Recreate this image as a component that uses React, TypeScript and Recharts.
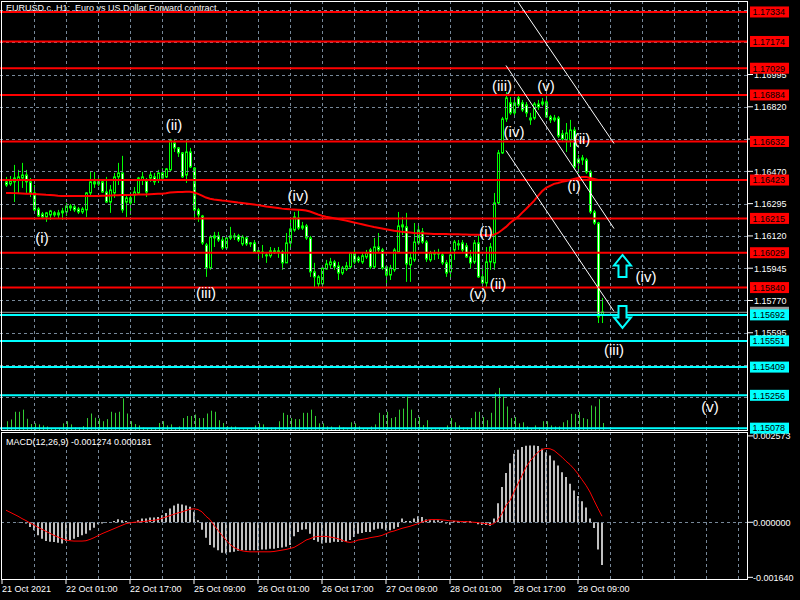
import React from 'react';
import { ComposedChart, Bar, Line, XAxis, YAxis, ReferenceLine, ReferenceDot } from 'recharts';

const FONT = '"Liberation Sans", Arial, sans-serif';
const LIME = '#00ff00';
const VOL_GREEN = '#32cd32';
const GRID = '#778899';

// ---------- data ----------
const timeLabels = ['21 Oct 2021', '22 Oct 01:00', '22 Oct 17:00', '25 Oct 09:00', '26 Oct 01:00', '26 Oct 17:00', '27 Oct 09:00', '28 Oct 01:00', '28 Oct 17:00', '29 Oct 09:00'];
const timeLabelSlots = [0, 16, 32, 48, 64, 80, 96, 112, 128, 144];
const gridSlots = [8, 16, 24, 32, 40, 48, 56, 64, 72, 80, 88, 96, 104, 112, 120, 128, 136, 144, 152, 160, 168, 176, 184];
const SLOT_COUNT = 187;
const FIRST_SLOT = 1;

const opens = [
  1.16413, 1.16402, 1.16413, 1.16423, 1.16434, 1.16450, 1.16413, 1.16353, 1.16266, 1.16239,
  1.16223, 1.16234, 1.16245, 1.16234, 1.16245, 1.16250, 1.16282, 1.16277, 1.16266, 1.16250,
  1.16261, 1.16353, 1.16413, 1.16402, 1.16413, 1.16358, 1.16304, 1.16353, 1.16440, 1.16461,
  1.16304, 1.16326, 1.16342, 1.16353, 1.16423, 1.16418, 1.16434, 1.16440, 1.16423, 1.16461,
  1.16440, 1.16478, 1.16624, 1.16597, 1.16570, 1.16450, 1.16575, 1.16488, 1.16261, 1.16228,
  1.16071, 1.15946, 1.16120, 1.16120, 1.16098, 1.16055, 1.16109, 1.16120, 1.16120, 1.16077,
  1.16109, 1.16082, 1.16082, 1.16039, 1.16033, 1.16017, 1.16012, 1.16039, 1.16033, 1.16033,
  1.15974, 1.16082, 1.16152, 1.16217, 1.16163, 1.16174, 1.16109, 1.15925, 1.15860, 1.15860,
  1.15941, 1.15963, 1.15979, 1.15957, 1.15919, 1.15941, 1.15952, 1.16028, 1.16001, 1.15979,
  1.16006, 1.16044, 1.15952, 1.16060, 1.16044, 1.15952, 1.15908, 1.15936, 1.16033, 1.16169,
  1.16169, 1.15963, 1.15990, 1.16082, 1.16142, 1.16087, 1.15990, 1.16028, 1.16022, 1.16017,
  1.15974, 1.15925, 1.16044, 1.16077, 1.16082, 1.16066, 1.16006, 1.15979, 1.16082, 1.15898,
  1.15865, 1.15979, 1.15974, 1.16299, 1.16570, 1.16754, 1.16841, 1.16787, 1.16868, 1.16841,
  1.16830, 1.16759, 1.16759, 1.16835, 1.16835, 1.16846, 1.16765, 1.16759, 1.16759, 1.16673,
  1.16640, 1.16640, 1.16694, 1.16537, 1.16532, 1.16532, 1.16467, 1.16250, 1.16190, 1.15692,
];
const highs = [
  1.16440, 1.16445, 1.16505, 1.16478, 1.16516, 1.16478, 1.16434, 1.16396, 1.16277, 1.16250,
  1.16250, 1.16261, 1.16255, 1.16261, 1.16272, 1.16299, 1.16293, 1.16288, 1.16277, 1.16277,
  1.16358, 1.16467, 1.16467, 1.16434, 1.16423, 1.16440, 1.16396, 1.16461, 1.16516, 1.16554,
  1.16342, 1.16358, 1.16385, 1.16440, 1.16467, 1.16434, 1.16467, 1.16461, 1.16478, 1.16488,
  1.16488, 1.16646, 1.16646, 1.16602, 1.16575, 1.16640, 1.16597, 1.16494, 1.16272, 1.16234,
  1.16082, 1.16125, 1.16142, 1.16142, 1.16114, 1.16114, 1.16169, 1.16136, 1.16131, 1.16125,
  1.16120, 1.16087, 1.16098, 1.16060, 1.16071, 1.16033, 1.16060, 1.16055, 1.16060, 1.16044,
  1.16136, 1.16207, 1.16250, 1.16261, 1.16196, 1.16185, 1.16120, 1.15974, 1.15908, 1.15952,
  1.15990, 1.16001, 1.15990, 1.15979, 1.15957, 1.15979, 1.16033, 1.16044, 1.16012, 1.16033,
  1.16044, 1.16055, 1.16109, 1.16136, 1.16055, 1.15963, 1.15963, 1.16055, 1.16250, 1.16223,
  1.16245, 1.16033, 1.16190, 1.16190, 1.16163, 1.16098, 1.16039, 1.16044, 1.16050, 1.16028,
  1.15990, 1.16044, 1.16098, 1.16098, 1.16098, 1.16082, 1.16044, 1.16098, 1.16125, 1.15952,
  1.16060, 1.16082, 1.16353, 1.16586, 1.16765, 1.16900, 1.16873, 1.16857, 1.16884, 1.16857,
  1.16846, 1.16787, 1.16846, 1.16857, 1.16868, 1.16879, 1.16776, 1.16776, 1.16770, 1.16694,
  1.16732, 1.16749, 1.16711, 1.16559, 1.16559, 1.16543, 1.16478, 1.16261, 1.16196, 1.15784,
];
const lows = [
  1.16385, 1.16391, 1.16304, 1.16353, 1.16380, 1.16353, 1.16331, 1.16250, 1.16223, 1.16212,
  1.16196, 1.16207, 1.16223, 1.16217, 1.16207, 1.16228, 1.16255, 1.16250, 1.16239, 1.16239,
  1.16223, 1.16342, 1.16380, 1.16391, 1.16353, 1.16299, 1.16245, 1.16326, 1.16396, 1.16245,
  1.16223, 1.16234, 1.16299, 1.16342, 1.16396, 1.16331, 1.16413, 1.16396, 1.16407, 1.16418,
  1.16434, 1.16467, 1.16575, 1.16548, 1.16434, 1.16407, 1.16488, 1.16223, 1.16196, 1.16071,
  1.15898, 1.15936, 1.16060, 1.16087, 1.16044, 1.16044, 1.16098, 1.16098, 1.16087, 1.16066,
  1.16066, 1.16060, 1.16028, 1.15990, 1.16001, 1.15974, 1.16001, 1.16022, 1.16001, 1.15936,
  1.15974, 1.16044, 1.16142, 1.16152, 1.16152, 1.16098, 1.15898, 1.15843, 1.15843, 1.15843,
  1.15936, 1.15946, 1.15936, 1.15881, 1.15908, 1.15930, 1.15946, 1.15968, 1.15974, 1.15968,
  1.15995, 1.15941, 1.15946, 1.16033, 1.15936, 1.15843, 1.15881, 1.15925, 1.16028, 1.16125,
  1.15871, 1.15871, 1.15979, 1.16071, 1.16077, 1.15979, 1.15979, 1.15990, 1.15995, 1.15963,
  1.15898, 1.15881, 1.15990, 1.16044, 1.16033, 1.16001, 1.15946, 1.15968, 1.15892, 1.15843,
  1.15843, 1.15936, 1.15936, 1.16288, 1.16564, 1.16738, 1.16776, 1.16759, 1.16819, 1.16792,
  1.16765, 1.16722, 1.16749, 1.16803, 1.16824, 1.16759, 1.16732, 1.16738, 1.16651, 1.16635,
  1.16575, 1.16602, 1.16478, 1.16461, 1.16505, 1.16456, 1.16239, 1.16180, 1.15648, 1.15648,
];
const closes = [
  1.16396, 1.16418, 1.16434, 1.16440, 1.16450, 1.16413, 1.16353, 1.16261, 1.16228, 1.16223,
  1.16245, 1.16255, 1.16234, 1.16245, 1.16255, 1.16282, 1.16272, 1.16261, 1.16250, 1.16266,
  1.16353, 1.16413, 1.16402, 1.16413, 1.16358, 1.16304, 1.16369, 1.16440, 1.16461, 1.16261,
  1.16326, 1.16299, 1.16358, 1.16434, 1.16440, 1.16358, 1.16450, 1.16413, 1.16461, 1.16434,
  1.16483, 1.16640, 1.16597, 1.16570, 1.16440, 1.16575, 1.16494, 1.16261, 1.16234, 1.16082,
  1.15946, 1.16114, 1.16109, 1.16098, 1.16055, 1.16109, 1.16120, 1.16114, 1.16098, 1.16114,
  1.16077, 1.16077, 1.16033, 1.16033, 1.16028, 1.16012, 1.16039, 1.16033, 1.16039, 1.15974,
  1.16082, 1.16158, 1.16223, 1.16163, 1.16174, 1.16109, 1.15925, 1.15898, 1.15898, 1.15946,
  1.15968, 1.15979, 1.15952, 1.15919, 1.15946, 1.15957, 1.16028, 1.15979, 1.15985, 1.16012,
  1.16028, 1.15952, 1.16060, 1.16044, 1.15946, 1.15908, 1.15946, 1.16044, 1.16174, 1.16180,
  1.15968, 1.16001, 1.16087, 1.16152, 1.16087, 1.15995, 1.16028, 1.16022, 1.16028, 1.15974,
  1.15919, 1.16017, 1.16087, 1.16071, 1.16044, 1.16006, 1.15974, 1.16082, 1.15898, 1.15865,
  1.15979, 1.16060, 1.16299, 1.16570, 1.16754, 1.16868, 1.16787, 1.16841, 1.16830, 1.16803,
  1.16787, 1.16749, 1.16835, 1.16819, 1.16846, 1.16765, 1.16749, 1.16749, 1.16662, 1.16646,
  1.16678, 1.16694, 1.16494, 1.16516, 1.16543, 1.16467, 1.16250, 1.16190, 1.15681, 1.15708,
];
const volumes = [
  1250, 1500, 2600, 2600, 2900, 1600, 850, 950, 800, 650,
  500, 150, 200, 200, 950, 1250, 800, 350, 350, 550,
  1700, 2350, 1750, 1650, 1250, 1550, 2600, 2450, 2600, 4500,
  2350, 1250, 850, 650, 350, 150, 300, 300, 1000, 1250,
  650, 800, 300, 500, 1700, 2000, 2000, 2200, 1700, 1700,
  2350, 2750, 2600, 1400, 1000, 550, 500, 500, 100, 100,
  200, 150, 650, 950, 800, 350, 350, 350, 1250, 2450,
  2150, 1700, 1550, 1550, 2450, 2450, 2900, 2000, 950, 950,
  500, 500, 200, 650, 350, 100, 1100, 950, 500, 200,
  200, 500, 800, 2450, 2150, 2600, 1700, 1850, 2900, 3050,
  4750, 2900, 1700, 1850, 700, 1400, 200, 100, 200, 200,
  650, 1700, 1100, 650, 350, 350, 1700, 2600, 2600, 1850,
  1400, 2450, 5300, 6000, 4750, 3350, 1700, 1850, 950, 1100,
  500, 150, 650, 350, 1250, 1250, 650, 500, 500, 1100,
  1400, 2300, 2300, 2600, 1700, 1550, 3500, 3350, 4400, 1000,
];
const maValues = [
  1.16353, 1.16353, 1.16352, 1.16351, 1.16350, 1.16349, 1.16348, 1.16347, 1.16346, 1.16345,
  1.16343, 1.16342, 1.16340, 1.16338, 1.16337, 1.16337, 1.16336, 1.16336, 1.16336, 1.16336,
  1.16336, 1.16337, 1.16337, 1.16337, 1.16338, 1.16338, 1.16339, 1.16340, 1.16341, 1.16342,
  1.16342, 1.16342, 1.16343, 1.16344, 1.16345, 1.16345, 1.16346, 1.16347, 1.16348, 1.16349,
  1.16351, 1.16355, 1.16357, 1.16358, 1.16358, 1.16359, 1.16359, 1.16355, 1.16348, 1.16338,
  1.16328, 1.16322, 1.16318, 1.16315, 1.16312, 1.16310, 1.16307, 1.16304, 1.16301, 1.16299,
  1.16296, 1.16293, 1.16290, 1.16287, 1.16284, 1.16280, 1.16277, 1.16274, 1.16271, 1.16268,
  1.16266, 1.16264, 1.16263, 1.16262, 1.16261, 1.16258, 1.16252, 1.16244, 1.16236, 1.16229,
  1.16224, 1.16220, 1.16216, 1.16212, 1.16208, 1.16203, 1.16198, 1.16193, 1.16188, 1.16183,
  1.16178, 1.16173, 1.16168, 1.16164, 1.16160, 1.16156, 1.16152, 1.16148, 1.16145, 1.16142,
  1.16140, 1.16138, 1.16136, 1.16135, 1.16134, 1.16133, 1.16132, 1.16131, 1.16131, 1.16130,
  1.16130, 1.16129, 1.16129, 1.16129, 1.16128, 1.16128, 1.16127, 1.16127, 1.16126, 1.16125,
  1.16124, 1.16124, 1.16127, 1.16136, 1.16152, 1.16169, 1.16190, 1.16207, 1.16223, 1.16245,
  1.16266, 1.16288, 1.16310, 1.16337, 1.16362, 1.16380, 1.16391, 1.16402, 1.16407, 1.16413,
  1.16418, 1.16423, 1.16429, 1.16434, 1.16440, 1.16440, 1.16434, 1.16429, 1.16423, 1.16423,
];
const macdMain = [
  0, 0, 0, -0.00001, -0.00002, -0.00004, -0.00014, -0.00024, -0.00039, -0.00049,
  -0.00056, -0.00058, -0.00059, -0.00061, -0.00063, -0.00056, -0.00053, -0.00049, -0.00044, -0.00039,
  -0.00034, -0.00024, -0.00016, -0.00006, -0.00004, -0.00002, 0, 0.00004, 0.00009, 0.00006,
  0.00004, 0.00001, -0.00002, 0.00006, 0.00011, 0.00011, 0.00014, 0.00014, 0.00016, 0.00021,
  0.00028, 0.00041, 0.00050, 0.00055, 0.00053, 0.00050, 0.00046, 0.00031, 0.00006, -0.00022,
  -0.00046, -0.00068, -0.00075, -0.00083, -0.00091, -0.00093, -0.00089, -0.00088, -0.00085, -0.00083,
  -0.00083, -0.00083, -0.00083, -0.00083, -0.00081, -0.00081, -0.00079, -0.00079, -0.00077, -0.00075,
  -0.00073, -0.00068, -0.00042, -0.00029, -0.00022, -0.00021, -0.00034, -0.00053, -0.00058, -0.00063,
  -0.00061, -0.00061, -0.00058, -0.00059, -0.00058, -0.00058, -0.00053, -0.00044, -0.00034, -0.00032,
  -0.00029, -0.00029, -0.00022, -0.00019, -0.00019, -0.00024, -0.00024, -0.00019, -0.00014, 0.00011,
  0.00004, 0.00004, 0.00011, 0.00018, 0.00016, 0.00008, 0.00006, 0.00006, 0.00006, 0.00004,
  -0.00004, -0.00007, 0.00004, 0.00004, 0.00004, 0.00004, 0.00004, 0.00001, -0.00006, -0.00008,
  -0.00008, -0.00010, 0.00011, 0.00057, 0.00105, 0.00147, 0.00176, 0.00204, 0.00216, 0.00224,
  0.00228, 0.00229, 0.00229, 0.00227, 0.00219, 0.00209, 0.00199, 0.00184, 0.00169, 0.00149,
  0.00135, 0.00115, 0.00095, 0.00078, 0.00063, 0.00044, 0.00011, -0.00017, -0.00081, -0.001274,
];
const macdSignal = [
  0.00036, 0.00030, 0.00024, 0.00018, 0.00011, 0.00005, -0.00002, -0.00008, -0.00015, -0.00021,
  -0.00027, -0.00033, -0.00039, -0.00044, -0.00049, -0.00053, -0.00055, -0.00056, -0.00056, -0.00056,
  -0.00055, -0.00051, -0.00046, -0.00040, -0.00034, -0.00029, -0.00024, -0.00019, -0.00014, -0.00009,
  -0.00004, -0.00002, 0, 0.00001, 0.00002, 0.00003, 0.00005, 0.00006, 0.00008, 0.00012,
  0.00016, 0.00020, 0.00024, 0.00028, 0.00031, 0.00035, 0.00039, 0.00040, 0.00038, 0.00031,
  0.00018, 0.00008, -0.00009, -0.00024, -0.00039, -0.00053, -0.00066, -0.00075, -0.00081, -0.00085,
  -0.00087, -0.00088, -0.00088, -0.00088, -0.00088, -0.00088, -0.00088, -0.00087, -0.00085, -0.00083,
  -0.00081, -0.00078, -0.00075, -0.00068, -0.00061, -0.00053, -0.00049, -0.00044, -0.00042, -0.00042,
  -0.00042, -0.00044, -0.00046, -0.00049, -0.00053, -0.00058, -0.00060, -0.00058, -0.00053, -0.00051,
  -0.00049, -0.00046, -0.00044, -0.00042, -0.00039, -0.00034, -0.00029, -0.00026, -0.00022, -0.00018,
  -0.00015, -0.00012, -0.00008, -0.00004, 0.00001, 0.00005, 0.00008, 0.00008, 0.00008, 0.00007,
  0.00006, 0.00004, 0.00004, 0.00003, 0.00002, 0.00002, 0.00001, 0, -0.00001, -0.00003,
  -0.00004, -0.00007, -0.00004, 0.00008, 0.00026, 0.00050, 0.00065, 0.00090, 0.00115, 0.00139,
  0.00164, 0.00182, 0.00196, 0.00209, 0.00217, 0.00220, 0.00219, 0.00214, 0.00204, 0.00194,
  0.00182, 0.00172, 0.00159, 0.00144, 0.00127, 0.00110, 0.00090, 0.00065, 0.00041, 0.000181,
];

const redLevels = [1.17334, 1.17174, 1.17029, 1.16884, 1.16632, 1.16423, 1.16215, 1.16029, 1.15840];
const cyanLevels = [1.15692, 1.15551, 1.15409, 1.15256, 1.15078];
const bidPrice = 1.15706;
const priceTicks = [1.15595, 1.15770, 1.15945, 1.16120, 1.16295, 1.16470, 1.16645, 1.16820, 1.16995];
const priceGrid = [1.15245, 1.15420, 1.15595, 1.15770, 1.15945, 1.16120, 1.16295, 1.16470, 1.16645, 1.16820, 1.16995, 1.17170, 1.17345];
const priceDomain = [1.15068, 1.17388];
const macdTicks = [0.002573, 0, -0.00164];
const macdDomain = [-0.00169, 0.00266];
const volumeDomain = [0, 61000];

const channelStartSlot = [126, 126, 129];
const channelStartPrice = [1.16583, 1.17044, 1.17388];
const channelEndSlot = [153, 153, 153];
const channelEndPrice = [1.15711, 1.16160, 1.16621];

const waveText = ['(i)', '(ii)', '(iii)', '(iv)', '(v)', '(ii)', '(i)', '(iii)', '(iv)', '(v)', '(ii)', '(i)', '(iv)', '(iii)', '(v)'];
const waveSlot = [10, 43, 51, 74, 119, 124, 121, 125, 128, 136, 145, 143, 161, 153, 177];
const wavePrice = [1.16109, 1.16722, 1.15811, 1.16337, 1.15806, 1.15860, 1.16142, 1.16938, 1.16684, 1.16938, 1.16646, 1.16396, 1.15898, 1.15502, 1.15198];

const arrowSlot = [155, 155];
const arrowPrice = [1.15957, 1.15681];
const arrowDir = ['up', 'down'];

// ---------- table ----------
const rows = Array.from({ length: SLOT_COUNT }, (_, k) => {
  const i = k - FIRST_SLOT;
  const has = i >= 0 && i < opens.length;
  return {
    k,
    o: has ? opens[i] : null,
    h: has ? highs[i] : null,
    l: has ? lows[i] : null,
    c: has ? closes[i] : null,
    range: has ? [lows[i], highs[i]] : null,
    vol: has ? volumes[i] : null,
    ma: has ? maValues[i] : null,
    macd: has ? macdMain[i] : null,
    sig: has ? macdSignal[i] : null,
  };
});

const labelBySlot: Record<number, string> = {};
timeLabelSlots.forEach((s, idx) => { labelBySlot[s] = timeLabels[idx]; });

// ---------- shapes ----------
const Candle = (props: any) => {
  const { x, y, width, height, payload } = props;
  if (!payload || payload.o == null) return null;
  const { o, h, l, c } = payload;
  const span = h - l;
  const ppu = span > 0 ? height / span : 0;
  const yOf = (v: number) => y + (h - v) * ppu;
  const cx = Math.round(x + width / 2) + 0.5;
  const top = yOf(Math.max(o, c));
  const bot = yOf(Math.min(o, c));
  const bull = c >= o;
  return (
    <g>
      <line x1={cx} x2={cx} y1={y} y2={y + height} stroke={LIME} strokeWidth={1} />
      <rect x={cx - 1} y={top} width={2} height={Math.max(bot - top, 0.01)} fill={bull ? '#000' : '#fff'} stroke={LIME} strokeWidth={1} />
    </g>
  );
};

const VolBar = (props: any) => {
  const { x, y, width, height } = props;
  if (!height || height <= 0) return null;
  const cx = Math.round(x + width / 2);
  return <rect x={cx} y={y} width={1} height={height} fill={VOL_GREEN} />;
};

const crispV = (stroke: string) => (p: any) => {
  const x = Math.round(p.x1) + 0.5;
  return <line x1={x} x2={x} y1={p.y1} y2={p.y2} stroke={stroke} strokeWidth={1} strokeDasharray="3 3" />;
};
const crispH = (stroke: string) => (p: any) => {
  const y = Math.round(p.y1) + 0.5;
  return <line x1={p.x1} x2={p.x2} y1={y} y2={y} stroke={stroke} strokeWidth={1} strokeDasharray="3 3" />;
};

const tag = (text: string, bg: string) => (props: any) => {
  const vb = props.viewBox || {};
  const right = (vb.x || 0) + (vb.width || 0);
  const y = vb.y || 0;
  return (
    <g>
      <rect x={right + 2} y={y - 5.5} width={39} height={11} fill={bg} />
      <text x={right + 4.5} y={y + 3.3} fill="#000" fontSize={9} fontFamily={FONT}>{text}</text>
    </g>
  );
};

const PriceTick = (props: any) => {
  const { x, y, payload } = props;
  return (
    <text x={x} y={y + 3.3} fill="#fff" fontSize={9} fontFamily={FONT} textAnchor="start">
      {Number(payload.value).toFixed(5)}
    </text>
  );
};

const MacdTick = (props: any) => {
  const { x, y, payload } = props;
  return (
    <text x={x} y={y + 3.3} fill="#fff" fontSize={9} fontFamily={FONT} textAnchor="start">
      {Number(payload.value).toFixed(6)}
    </text>
  );
};

const TimeTick = (props: any) => {
  const { x, y, payload } = props;
  return (
    <text x={x} y={y + 8} fill="#fff" fontSize={9} fontFamily={FONT} textAnchor="start">
      {labelBySlot[payload.value] || ''}
    </text>
  );
};

const waveShape = (text: string) => (p: any) => (
  <text x={p.cx} y={p.cy} fill="#fff" fontSize={15} fontFamily={FONT} textAnchor="middle" dominantBaseline="central">
    {text}
  </text>
);

const arrowShape = (dir: string) => (p: any) => {
  const cx = Math.round(p.cx) + 0.5;
  const cy = p.cy;
  const s = dir === 'up' ? 1 : -1;
  const pts = [
    [0, -11], [8.5, -0.5], [4, -0.5], [4, 11], [-4, 11], [-4, -0.5], [-8.5, -0.5],
  ].map(([dx, dy]) => `${cx + dx},${cy + s * dy}`).join(' ');
  return <polygon points={pts} fill="#000" stroke="#00ffff" strokeWidth={2} strokeLinejoin="miter" />;
};

export default function App() {
  return (
    <div style={{ position: 'fixed', left: 0, top: 0, width: 800, height: 600, background: '#000', overflow: 'hidden', fontFamily: FONT }}>
      <div style={{ position: 'absolute', left: 6, top: 3, color: '#fff', fontSize: 9, lineHeight: '10px', whiteSpace: 'pre' }}>
        {'EURUSD.c, H1:  Euro vs US Dollar Forward contract'}
      </div>

      {/* volumes + price scale (under the level tags) */}
      <div style={{ position: 'absolute', left: 0, top: 0 }}>
        <ComposedChart width={800} height={432} data={rows} margin={{ top: 2, right: 0, bottom: 2, left: 0 }}>
          <XAxis dataKey="k" hide />
          <YAxis yAxisId="v" hide domain={volumeDomain} allowDataOverflow />
          <YAxis yAxisId="p" orientation="right" width={52} domain={priceDomain} ticks={priceTicks} interval={0} allowDataOverflow
            axisLine={false} tickLine={{ stroke: '#fff' }} tickSize={5} tickMargin={1} tick={<PriceTick />} />
          <Bar yAxisId="v" dataKey="vol" barSize={1} fill={VOL_GREEN} shape={<VolBar />} isAnimationActive={false} />
        </ComposedChart>
      </div>

      {/* MACD */}
      <div style={{ position: 'absolute', left: 0, top: 431 }}>
        <ComposedChart width={800} height={169} data={rows} margin={{ top: 2, right: 0, bottom: 0, left: 0 }}>
          <XAxis dataKey="k" ticks={timeLabelSlots} interval={0} height={21} axisLine={false}
            tickLine={{ stroke: '#fff' }} tickSize={5} tickMargin={0} tick={<TimeTick />} />
          <YAxis orientation="right" width={52} domain={macdDomain} ticks={macdTicks} interval={0} allowDataOverflow
            axisLine={false} tickLine={{ stroke: '#fff' }} tickSize={5} tickMargin={0} tick={<MacdTick />} />
          {gridSlots.map((s) => (
            <ReferenceLine key={'mg' + s} x={s} stroke={GRID} shape={crispV(GRID)} />
          ))}
          <ReferenceLine y={0} stroke={GRID} shape={crispH(GRID)} />
          <Bar dataKey="macd" barSize={2} fill="#c0c0c0" isAnimationActive={false} />
          <Line dataKey="sig" stroke="#ff0000" strokeWidth={1} dot={false} activeDot={false} isAnimationActive={false} />
        </ComposedChart>
        <div style={{ position: 'absolute', left: 6, top: 6, color: '#fff', fontSize: 9, lineHeight: '10px', whiteSpace: 'pre' }}>
          {'MACD(12,26,9) -0.001274 0.000181'}
        </div>
      </div>

      {/* main price chart */}
      <div style={{ position: 'absolute', left: 0, top: 0 }}>
        <ComposedChart width={800} height={436} data={rows} margin={{ top: 2, right: 52, bottom: 6, left: 0 }}>
          <XAxis dataKey="k" hide />
          <YAxis yAxisId="p" hide domain={priceDomain} allowDataOverflow />
          {gridSlots.map((s) => (
            <ReferenceLine key={'g' + s} yAxisId="p" x={s} stroke={GRID} shape={crispV(GRID)} />
          ))}
          {priceGrid.map((v) => (
            <ReferenceLine key={'hg' + v} yAxisId="p" y={v} stroke={GRID} shape={crispH(GRID)} />
          ))}
          <Bar yAxisId="p" dataKey="range" barSize={4} shape={<Candle />} isAnimationActive={false} />
          <Line yAxisId="p" dataKey="ma" stroke="#ff0000" strokeWidth={2} dot={false} activeDot={false} isAnimationActive={false} />
          <ReferenceLine yAxisId="p" y={bidPrice} stroke="#9a9a9a" strokeWidth={1} label={tag('', '#9a9a9a')} />
          {redLevels.map((v) => (
            <ReferenceLine key={'r' + v} yAxisId="p" y={v} stroke="#ff0000" strokeWidth={2} label={tag(v.toFixed(5), '#ff0000')} />
          ))}
          {cyanLevels.map((v) => (
            <ReferenceLine key={'c' + v} yAxisId="p" y={v} stroke="#00ffff" strokeWidth={2} label={tag(v.toFixed(5), '#00ffff')} />
          ))}
          {channelStartSlot.map((s, idx) => (
            <ReferenceLine key={'ch' + idx} yAxisId="p" ifOverflow="visible"
              segment={[{ x: s, y: channelStartPrice[idx] }, { x: channelEndSlot[idx], y: channelEndPrice[idx] }]}
              stroke="#ffffff" strokeWidth={1} />
          ))}
          {waveText.map((t, idx) => (
            <ReferenceDot key={'w' + idx} yAxisId="p" x={waveSlot[idx]} y={wavePrice[idx]} r={0} shape={waveShape(t)} />
          ))}
          {arrowSlot.map((s, idx) => (
            <ReferenceDot key={'a' + idx} yAxisId="p" x={s} y={arrowPrice[idx]} r={0} shape={arrowShape(arrowDir[idx])} />
          ))}
        </ComposedChart>
      </div>

      {/* frames */}
      <div style={{ position: 'absolute', left: 1, top: 1, width: 747, height: 430, border: '1px solid #fff', boxSizing: 'border-box', pointerEvents: 'none' }} />
      <div style={{ position: 'absolute', left: 1, top: 432, width: 747, height: 148, border: '1px solid #fff', boxSizing: 'border-box', pointerEvents: 'none' }} />
    </div>
  );
}
